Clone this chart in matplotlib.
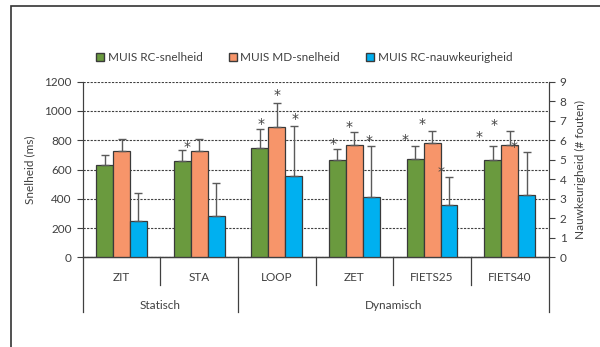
import numpy as np
import matplotlib
matplotlib.use("Agg")
import matplotlib.pyplot as plt
from matplotlib.patches import Patch, Rectangle
import matplotlib.transforms as mtransforms

plt.rcParams['font.family'] = ['Lato', 'DejaVu Sans']

categories = ["ZIT", "STA", "LOOP", "ZET", "FIETS25", "FIETS40"]
groups = ["Statisch", "Dynamisch"]
group_sizes = [2, 4]

rc_speed = [629, 658, 745, 665, 672, 665]
rc_speed_sd = [68, 75, 130, 77, 89, 98]
md_speed = [729, 726, 893, 767, 783, 767]
md_speed_sd = [79, 80, 159, 89, 83, 99]
rc_acc = [1.86, 2.13, 4.18, 3.07, 2.66, 3.19]
rc_acc_sd = [1.42, 1.69, 2.56, 2.62, 1.44, 2.21]

# asterisks: (category index, x offset, height in ms)
stars = [(1, -0.16, 783),
         (2, -0.20, 943), (2, 0.00, 1139), (2, 0.24, 977),
         (3, -0.28, 802), (3, -0.07, 920), (3, 0.19, 824),
         (4, -0.35, 831), (4, -0.13, 938), (4, 0.11, 615),
         (5, -0.40, 852), (5, -0.20, 934), (5, 0.05, 783)]

green = "#6a9a3e"
orange = "#f7956a"
blue = "#00b0f0"
edge = "#3a3a3a"
txt = "#404040"

fig = plt.figure(figsize=(6, 3.47), dpi=100)
fig.patches.append(Rectangle((11.3 / 600, -0.1), 1.2, 1 - 5.7 / 347 + 0.1,
                             transform=fig.transFigure, fill=False,
                             edgecolor="#333333", linewidth=1.2))
ax = fig.add_axes([82.7 / 600, 1 - 257.3 / 347, (548.5 - 82.7) / 600, 175.6 / 347])
ax2 = ax.twinx()

x = np.arange(len(categories))
w = 0.218
ekw = dict(ecolor="#5a5a5a", elinewidth=1, capsize=3, capthick=1)
zeros = np.zeros(len(categories))

ax.bar(x - w, rc_speed, w, color=green, edgecolor=edge, linewidth=0.9,
       yerr=[zeros, rc_speed_sd], error_kw=ekw, zorder=3)
ax.bar(x, md_speed, w, color=orange, edgecolor=edge, linewidth=0.9,
       yerr=[zeros, md_speed_sd], error_kw=ekw, zorder=3)
ax2.bar(x + w, rc_acc, w, color=blue, edgecolor=edge, linewidth=0.9,
        yerr=[zeros, rc_acc_sd], error_kw=ekw, zorder=3)

# star glyph sits high in its box, so shift it down a little
for i, dx, h in stars:
    ax2.text(i + dx, h - 30, "*", transform=ax.transData, ha="center",
             va="center", fontsize=10, color=txt, zorder=5,
             family="DejaVu Sans")

ax.set_xlim(-0.5, len(categories) - 0.5)
ax.set_ylim(0, 1200)
ax.set_yticks(range(0, 1201, 200))
ax2.set_ylim(0, 9)
ax2.set_yticks(range(0, 10))
ax.set_axisbelow(True)
ax.yaxis.grid(True, linestyle=(0, (2, 1.2)), color="#404040", linewidth=0.8)

for a in (ax, ax2):
    a.spines["top"].set_visible(False)
    a.tick_params(axis="y", length=4, width=0.8, color="#404040",
                  labelcolor=txt, labelsize=8.5, pad=4)
for s in ("left", "right", "bottom"):
    ax2.spines[s].set_color("#404040")
    ax.spines[s].set_color("#404040")
ax.spines["bottom"].set_linewidth(1.0)

ax.set_xticks([])
ax.set_ylabel("Snelheid (ms)", fontsize=8.5, color=txt, labelpad=6)
ax2.set_ylabel("Nauwkeurigheid (# fouten)", fontsize=8.5, color=txt, labelpad=6)

# two-level category axis
trans = mtransforms.blended_transform_factory(ax.transData, ax.transAxes)
bounds = [0]
for n in group_sizes:
    bounds.append(bounds[-1] + n)
for b in range(len(categories) + 1):
    low = -0.31 if b in bounds else -0.155
    ax.plot([b - 0.5, b - 0.5], [0, low], transform=trans, color="#404040",
            linewidth=0.9, clip_on=False)
for i, c in enumerate(categories):
    ax.text(i, -0.116, c, transform=trans, ha="center", va="center",
            fontsize=8.5, color=txt)
for g, a0, a1 in zip(groups, bounds[:-1], bounds[1:]):
    ax.text((a0 + a1 - 1) / 2, -0.275, g, transform=trans, ha="center",
            va="center", fontsize=8.5, color=txt)

handles = [Patch(facecolor=green, edgecolor=edge, label="MUIS RC-snelheid"),
           Patch(facecolor=orange, edgecolor=edge, label="MUIS MD-snelheid"),
           Patch(facecolor=blue, edgecolor=edge, label="MUIS RC-nauwkeurigheid")]
leg = fig.legend(handles=handles, loc="center", bbox_to_anchor=(0.507, 0.833),
                 ncol=3, frameon=False, fontsize=8.5, handlelength=0.7,
                 handleheight=0.7, handletextpad=0.3, columnspacing=2.2)
for t in leg.get_texts():
    t.set_color(txt)

fig.savefig("out.png", dpi=100)
